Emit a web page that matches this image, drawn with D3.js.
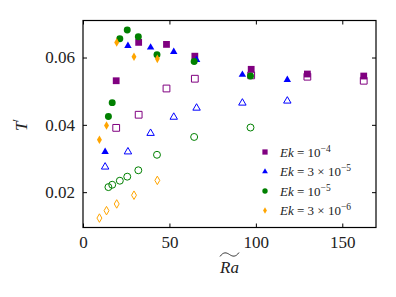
<!DOCTYPE html>
<meta charset="utf-8">
<style type="text/css">
body {
    margin: 0;
    background: #fff;
}

svg text {
    font-family: 'Liberation Serif', 'DejaVu Serif', serif;
    fill: #222;
}

.frame {
    fill: none;
    stroke: #000;
    stroke-width: 1.2;
}
</style>

<body>
    <script src="https://d3js.org/d3.v7.min.js"></script>
    <script>
    // T' against modified Rayleigh number, filled and open markers for each Ek

    var ekLabels = ['10', '3 \u00d7 10', '10', '3 \u00d7 10']
    var ekPowers = ['\u22124', '\u22125', '\u22125', '\u22126']

    var raEk4 = [19.2, 32.2, 48.3, 64.7, 97.3, 129.8, 162.4]
    var tEk4Filled = [0.0531, 0.0645, 0.0639, 0.0604, 0.0565, 0.0551, 0.0545]
    var tEk4Open = [0.0391, 0.0430, 0.0508, 0.0537, 0.0547, 0.0543, 0.0531]

    var raEk3e5 = [12.8, 26.0, 39.1, 52.5, 65.7, 92.2, 118.2]
    var tEk3e5Filled = [0.0320, 0.0635, 0.0630, 0.0617, 0.0593, 0.0549, 0.0534]
    var tEk3e5Open = [0.0275, 0.0320, 0.0375, 0.0423, 0.0450, 0.0465, 0.0471]

    var raEk5 = [14.7, 16.9, 21.3, 25.6, 32.0, 42.8, 64.3, 96.9]
    var tEk5Filled = [0.0425, 0.0466, 0.0656, 0.0682, 0.0662, 0.0608, 0.0588, 0.0545]
    var tEk5Open = [0.0215, 0.0222, 0.0234, 0.0246, 0.0265, 0.0311, 0.0364, 0.0392]

    var raEk3e6 = [9.5, 13.6, 19.5, 29.5, 43.0]
    var tEk3e6Filled = [0.0356, 0.0398, 0.0645, 0.0602, 0.0596]
    var tEk3e6Open = [0.0123, 0.0145, 0.0165, 0.0191, 0.0235]

    var xTicks = [0, 50, 100, 150]
    var yTicks = [0.02, 0.04, 0.06]

    var series = [
        {ra: raEk4, filled: tEk4Filled, open: tEk4Open, color: 'purple', shape: d3.symbolSquare, size: 46},
        {ra: raEk3e5, filled: tEk3e5Filled, open: tEk3e5Open, color: 'blue', shape: d3.symbolTriangle, size: 24},
        {ra: raEk5, filled: tEk5Filled, open: tEk5Open, color: 'green', shape: d3.symbolCircle, size: 38},
        {ra: raEk3e6, filled: tEk3e6Filled, open: tEk3e6Open, color: 'orange', shape: d3.symbolDiamond, size: 21}
    ]

    var width = 396
    var height = 297
    var plotL = 83, plotR = 376, plotT = 20.5, plotB = 227.5

    var x = d3.scaleLinear().domain([0, 169.5]).range([plotL, plotR])
    var y = d3.scaleLinear().domain([0.0095, 0.0710]).range([plotB, plotT])

    var svg = d3.select('body').append('svg')
        .attr('width', width)
        .attr('height', height)

    // ticks point inward on all four sides
    var tickLen = 4
    var xAxisB = d3.axisBottom(x).tickValues(xTicks).tickSize(-tickLen).tickPadding(8).tickFormat(d3.format('d'))
    var xAxisT = d3.axisTop(x).tickValues(xTicks).tickSize(-tickLen).tickFormat('')
    var yAxisL = d3.axisLeft(y).tickValues(yTicks).tickSize(-tickLen).tickPadding(8).tickFormat(d3.format('.2f'))
    var yAxisR = d3.axisRight(y).tickValues(yTicks).tickSize(-tickLen).tickFormat('')

    function styleAxis(g) {
        g.select('.domain').remove()
        g.selectAll('.tick line').attr('stroke', '#000').attr('stroke-width', 1)
        g.selectAll('.tick text')
            .style('font-family', "'Liberation Serif', 'DejaVu Serif', serif")
            .style('font-size', '17px')
            .attr('fill', '#222')
    }

    svg.append('g').attr('transform', 'translate(0,' + plotB + ')').call(xAxisB).call(styleAxis)
    svg.append('g').attr('transform', 'translate(0,' + plotT + ')').call(xAxisT).call(styleAxis)
    svg.append('g').attr('transform', 'translate(' + plotL + ',0)').call(yAxisL).call(styleAxis)
    svg.append('g').attr('transform', 'translate(' + plotR + ',0)').call(yAxisR).call(styleAxis)

    // markers: for each Ek the filled set, then the open set
    series.forEach(function(s) {
        var sym = d3.symbol().type(s.shape).size(s.size)
        var pts = s.ra.map(function(r, i) { return {ra: r, t: s.filled[i]} })
        var opts = s.ra.map(function(r, i) { return {ra: r, t: s.open[i]} })

        svg.append('g').selectAll('path')
            .data(pts)
            .enter()
            .append('path')
            .attr('d', sym)
            .attr('transform', d => 'translate(' + x(d.ra) + ',' + y(d.t) + ')')
            .attr('fill', s.color)

        svg.append('g').selectAll('path')
            .data(opts)
            .enter()
            .append('path')
            .attr('d', sym)
            .attr('transform', d => 'translate(' + x(d.ra) + ',' + y(d.t) + ')')
            .attr('fill', 'none')
            .attr('stroke', s.color)
            .attr('stroke-width', 1)
    })

    svg.append('rect')
        .attr('class', 'frame')
        .attr('x', plotL)
        .attr('y', plotT)
        .attr('width', plotR - plotL)
        .attr('height', plotB - plotT)

    // legend
    var legend = svg.append('g')
    series.forEach(function(s, i) {
        var ly = 152 + i * 19.5
        legend.append('path')
            .attr('d', d3.symbol().type(s.shape).size(s.size * 0.6))
            .attr('transform', 'translate(265,' + ly + ')')
            .attr('fill', s.color)

        var t = legend.append('text')
            .attr('x', 280)
            .attr('y', ly + 4.5)
            .style('font-size', '13px')
        t.append('tspan').style('font-style', 'italic').text('Ek')
        t.append('tspan').text(' = ' + ekLabels[i])
        t.append('tspan').attr('dy', -5).style('font-size', '9.5px').text(ekPowers[i])
    })

    // axis labels
    svg.append('text')
        .attr('x', 229.5)
        .attr('y', 273)
        .attr('text-anchor', 'middle')
        .style('font-size', '17px')
        .style('font-style', 'italic')
        .text('Ra')

    svg.append('path')
        .attr('d', 'M220,256.5 C223.5,251.5 226.5,252.5 229.5,254.5 C232.5,256.5 235.5,257.5 239,252.5')
        .attr('fill', 'none')
        .attr('stroke', '#222')
        .attr('stroke-width', 0.9)

    var yl = svg.append('text')
        .attr('transform', 'translate(27,125) rotate(-90)')
        .attr('text-anchor', 'middle')
        .style('font-size', '17px')
    yl.append('tspan').style('font-style', 'italic').text('T')
    yl.append('tspan').attr('dy', -6).style('font-size', '12px').text('\u2032')
    </script>
</body>
